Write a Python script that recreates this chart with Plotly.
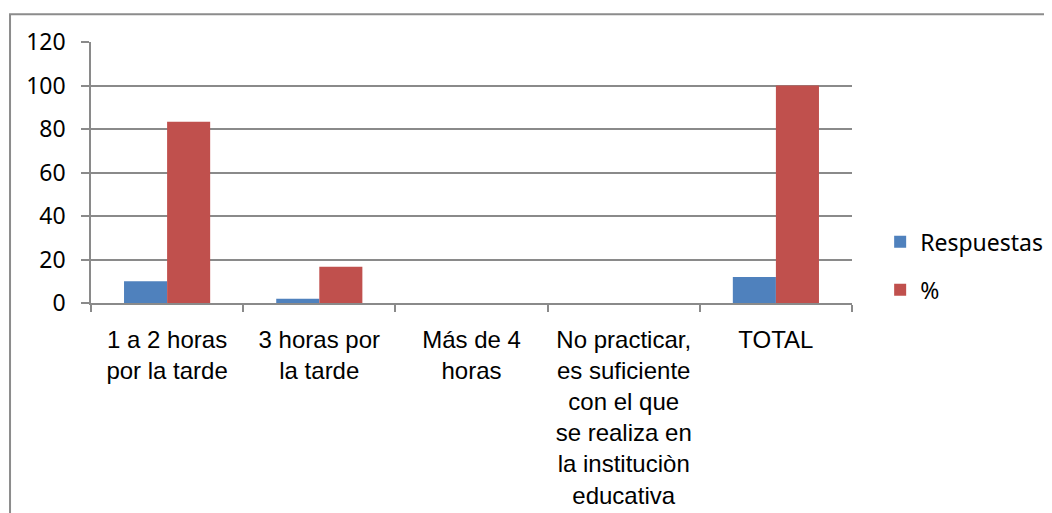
import plotly.graph_objects as go

categories = [
    "1 a 2 horas<br>por la tarde",
    "3 horas por<br>la tarde",
    "Más de 4<br>horas",
    "No practicar,<br>es suficiente<br>con el que<br>se realiza en<br>la instituciòn<br>educativa",
    "TOTAL",
]
respuestas = [10, 2, 0, 0, 12]
porcentaje = [83.33, 16.67, 0, 0, 100]
y_ticks = [0, 20, 40, 60, 80, 100, 120]

GRID = "#8a8a8a"

fig = go.Figure()
fig.add_trace(go.Bar(x=categories, y=respuestas, name="Respuestas",
                     marker=dict(color="#4F81BD", line=dict(width=0)),
                     legendgroup="a"))
fig.add_trace(go.Bar(x=categories, y=porcentaje, name="%",
                     marker=dict(color="#C0504D", line=dict(width=0)),
                     legendgroup="b"))

fig.update_layout(
    width=1052, height=513,
    margin=dict(l=83, r=208, t=34, b=216),
    paper_bgcolor="white", plot_bgcolor="white",
    barmode="group", bargap=0.434, bargroupgap=0,
    showlegend=True,
    legend=dict(x=1.037, xanchor="left", y=0.1426, yanchor="middle",
                font=dict(family="Noto Sans", size=23, color="#000"),
                tracegroupgap=15, bgcolor="rgba(0,0,0,0)"),
    xaxis=dict(
        showline=True, linecolor=GRID, linewidth=1.5,
        ticks="outside", tickson="boundaries", ticklen=7, tickcolor=GRID, tickwidth=1.5,
        tickfont=dict(family="Liberation Sans", size=24, color="#000"),
        ticklabelstandoff=14,
        showgrid=False, fixedrange=True,
    ),
    yaxis=dict(
        range=[0, 120], tickvals=y_ticks, showline=True, linecolor=GRID, linewidth=1.5,
        ticks="outside", ticklen=8, tickcolor=GRID, tickwidth=1.5,
        tickfont=dict(family="Noto Sans", size=23, color="#000"),
        ticklabelstandoff=11,
        showgrid=True, gridcolor=GRID, gridwidth=1.5, zeroline=False,
    ),
    shapes=[dict(type="rect", xref="paper", yref="paper",
                 x0=-0.1064, x1=1.3, y0=-0.9, y1=1.1065,
                 line=dict(color="#8c8c8c", width=2), fillcolor="rgba(0,0,0,0)",
                 layer="below")],
)

fig.write_html("out.html")
